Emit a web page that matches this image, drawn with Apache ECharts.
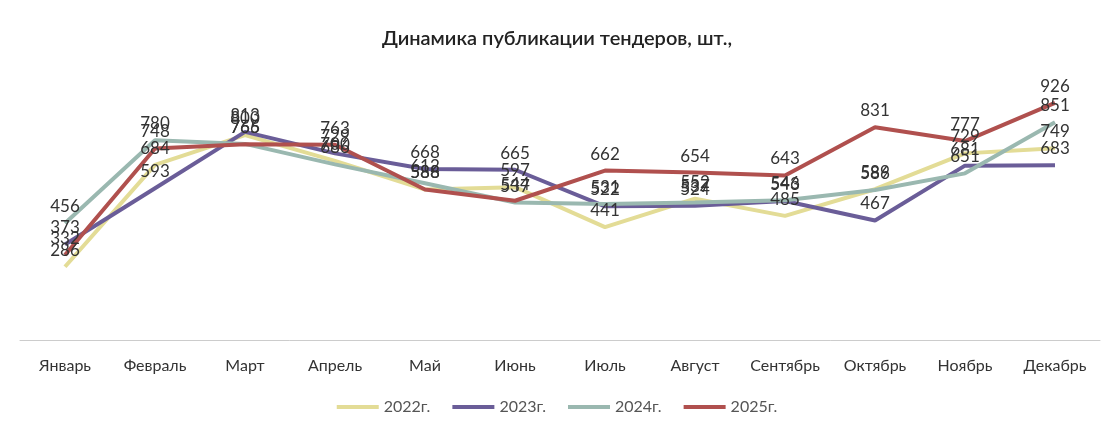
<!DOCTYPE html>
<html>
<head>
<meta charset="utf-8">
<script src="https://cdn.jsdelivr.net/npm/echarts@6/dist/echarts.min.js"></script>
<style>html,body{margin:0;background:#fff}#c{width:1114px;height:430px}</style>
</head>
<body>
<div id="c"></div>
<script>
var months = ['Январь', 'Февраль', 'Март', 'Апрель', 'Май', 'Июнь', 'Июль', 'Август', 'Сентябрь', 'Октябрь', 'Ноябрь', 'Декабрь'];
var y2022 = [286, 684, 800, 700, 588, 597, 441, 552, 485, 589, 729, 749];
var y2023 = [373, 593, 813, 729, 668, 665, 522, 524, 543, 467, 681, 683];
var y2024 = [456, 780, 766, 686, 612, 537, 531, 537, 546, 586, 651, 851];
var y2025 = [332, 748, 765, 763, 588, 544, 662, 654, 643, 831, 777, 926];

function line(name, data, color) {
  return {
    name: name, type: 'line', data: data, symbol: 'circle', symbolSize: 0,
    lineStyle: { width: 4, color: color }, itemStyle: { color: color },
    label: { show: true, position: 'top', distance: 8, color: '#333', fontSize: 17, fontFamily: 'Lato' },
    labelLayout: { hideOverlap: false }
  };
}

var chart = echarts.init(document.getElementById('c'));
chart.setOption({
  animation: false,
  textStyle: { fontFamily: 'Lato' },
  title: {
    text: 'Динамика публикации тендеров, шт.,', left: 'center', top: 24,
    textStyle: { fontSize: 20, fontWeight: 600, color: '#222' }
  },
  legend: {
    bottom: 10, itemWidth: 42, itemHeight: 4, itemGap: 22,
    icon: 'rect',
    textStyle: { fontSize: 16, color: '#555' }
  },
  grid: { left: 20, right: 14, top: 84, bottom: 90 },
  xAxis: {
    type: 'category', data: months,
    axisLine: { lineStyle: { color: '#ccc' } },
    axisTick: { show: false },
    axisLabel: { fontSize: 16, color: '#333', margin: 18, interval: 0 }
  },
  yAxis: { type: 'value', min: 0, max: 1000, show: false, splitLine: { show: false } },
  series: [
    line('2022г.', y2022, '#e3dc96'),
    line('2023г.', y2023, '#6a5d98'),
    line('2024г.', y2024, '#9ab8b0'),
    line('2025г.', y2025, '#b0504e')
  ]
});
</script>
</body>
</html>
